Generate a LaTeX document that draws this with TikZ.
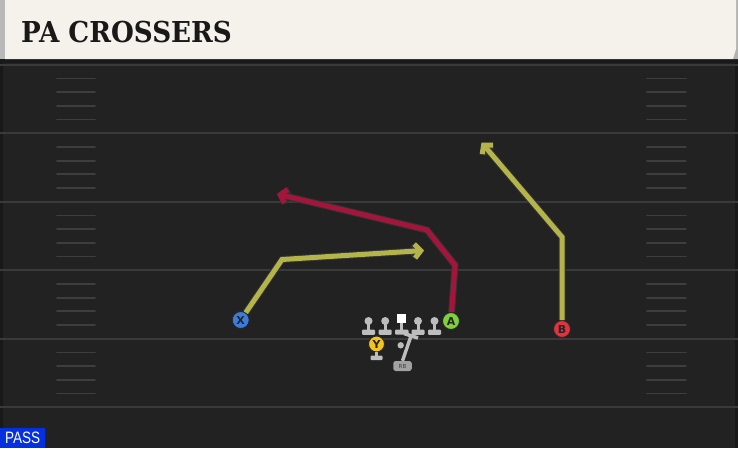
\documentclass[tikz,border=0pt]{standalone}
\usepackage{fontspec}
\newfontfamily\titlefont{DejaVu Serif}
\newfontfamily\labfont{DejaVu Sans}
\newfontfamily\passfont{Liberation Sans}
\usetikzlibrary{arrows.meta}
\definecolor{field}{HTML}{222222}
\definecolor{yardc}{HTML}{3A3A3A}
\definecolor{hashc}{HTML}{3E3E3E}
\definecolor{headbg}{HTML}{F5F2EB}
\definecolor{routey}{HTML}{B4B44B}
\definecolor{router}{HTML}{A3153A}
\definecolor{pblue}{HTML}{3B7DDD}
\definecolor{pgreen}{HTML}{7FD13B}
\definecolor{pred}{HTML}{E0323F}
\definecolor{pyellow}{HTML}{F2C41C}
\definecolor{passblue}{HTML}{0530E0}
\definecolor{olgray}{HTML}{BDBDBD}
\tikzset{
  player/.style={circle, draw=black!85, line width=0.9pt, minimum size=17pt, inner sep=0pt,
     font=\labfont\bfseries\fontsize{11}{11}\selectfont, text=black!85},
  route/.style={line width=5pt, line join=miter, line cap=butt,
     -{Straight Barb[length=6pt,width=14pt]}},
  routeout/.style={line width=7pt, black!80, line join=miter, line cap=butt,
     -{Straight Barb[length=6pt,width=14pt]}},
  yardline/.style={yardc, line width=2.2pt},
  hashline/.style={hashc, line width=1.8pt, line cap=round},
  olbar/.style={fill=olgray, draw=none, rounded corners=1pt},
}
\begin{document}
\begin{tikzpicture}[x=1pt,y=-1pt]
\useasboundingbox (0,0) rectangle (738,448);
% field
\fill[field] (0,0) rectangle (738,448);
\fill[black!30!field] (0,62) rectangle (3,448);
\fill[black!30!field] (735,62) rectangle (738,448);
% yard lines
\foreach \yy in {64.7,133.2,201.7,270.2,338.7,407.2}
  \draw[yardline] (0,\yy) -- (738,\yy);
% hashes
\foreach \yy in {64.7,133.2,201.7,270.2,338.7}
  \foreach \k in {1,2,3,4}{
    \draw[hashline] (57,\yy+\k*13.7) -- (95,\yy+\k*13.7);
    \draw[hashline] (647,\yy+\k*13.7) -- (686,\yy+\k*13.7);
  }
% header
\fill[black!90] (0,58) rectangle (738,62.5);
\fill[gray!60] (728,0) -- (738,0) -- (738,59) -- (733,59) -- cycle;
\fill[headbg] (5,0) -- (736,0) -- (736,49) -- (733,59) -- (5,59) -- cycle;
\fill[gray!55] (0,0) rectangle (5,59);
\node[anchor=base west, inner sep=0pt, font=\titlefont\bfseries\fontsize{28.8}{28.8}\selectfont, text=black!90]
  (title) at (21,42.7) {\scalebox{0.91}[1]{PA CROSSERS}};
% PASS label
\node[anchor=south west, fill=passblue, text=white, inner sep=0pt, minimum width=45pt, minimum height=20pt,
  font=\passfont\fontsize{16.5}{16.5}\selectfont] (pass) at (0,448) {\scalebox{0.82}[1]{PASS}};
% players
\node[player, fill=pblue] (X) at (240.7,320) {X};
\node[player, fill=pgreen] (A) at (451,321) {A};
\node[player, fill=pred] (B) at (562,329) {B};
\node[player, fill=pyellow, minimum size=16pt] (Y) at (376.5,344) {Y};
% route coordinates
\coordinate (xb) at (282,259.5);
\coordinate (xe) at (424,250.5);
\coordinate (ab1) at (455,265);
\coordinate (ab2) at (427,230);
\coordinate (ae) at (277,194);
\coordinate (bb) at (562,237);
\coordinate (be) at (481.5,142.5);
% routes
\draw[routeout] (X) -- (xb) -- (xe);
\draw[route, routey] (X) -- (xb) -- (xe);
\draw[routeout] (A) -- (ab1) -- (ab2) -- (ae);
\draw[route, router] (A) -- (ab1) -- (ab2) -- (ae);
\draw[routeout] (B) -- (bb) -- (be);
\draw[route, routey] (B) -- (bb) -- (be);
% offensive line
\foreach \xx/\nm in {368.5/lt,385.2/lg,418/rg,434.5/rt}{
  \draw[olgray, line width=3pt] (\xx,321) -- (\xx,331);
  \fill[olgray] (\xx,321) circle (4pt);
  \fill[olbar] (\xx-6.5,329.5) rectangle (\xx+6.5,334.8);
  \coordinate (\nm) at (\xx,321);
}
\node[fill=white, minimum size=9pt, inner sep=0pt] (C) at (401.6,318.5) {};
\draw[olgray, line width=3pt] (C.south) -- (401.6,330);
\fill[olbar] (395,329.5) rectangle (408.5,334.5);
% Y block
\draw[olgray, line width=2.6pt] (Y.south) -- (376.5,357);
\fill[olbar] (370.5,355.5) rectangle (382.5,360);
% RB
\node[fill=olgray!85!black, rounded corners=2.5pt, minimum width=18.5pt, minimum height=10pt, inner sep=0pt,
  font=\labfont\fontsize{5.5}{5.5}\selectfont, text=black!75] (RB) at (402.5,366) {RB};
\coordinate (rbend) at (411,336);
\draw[olgray, line width=3.4pt] (RB.north) -- (rbend);
\draw[olgray, line width=3.6pt] (404,333.5) -- (418,338);
\fill[olgray] (400.7,345.3) circle (3.2pt);
\end{tikzpicture}
\end{document}
